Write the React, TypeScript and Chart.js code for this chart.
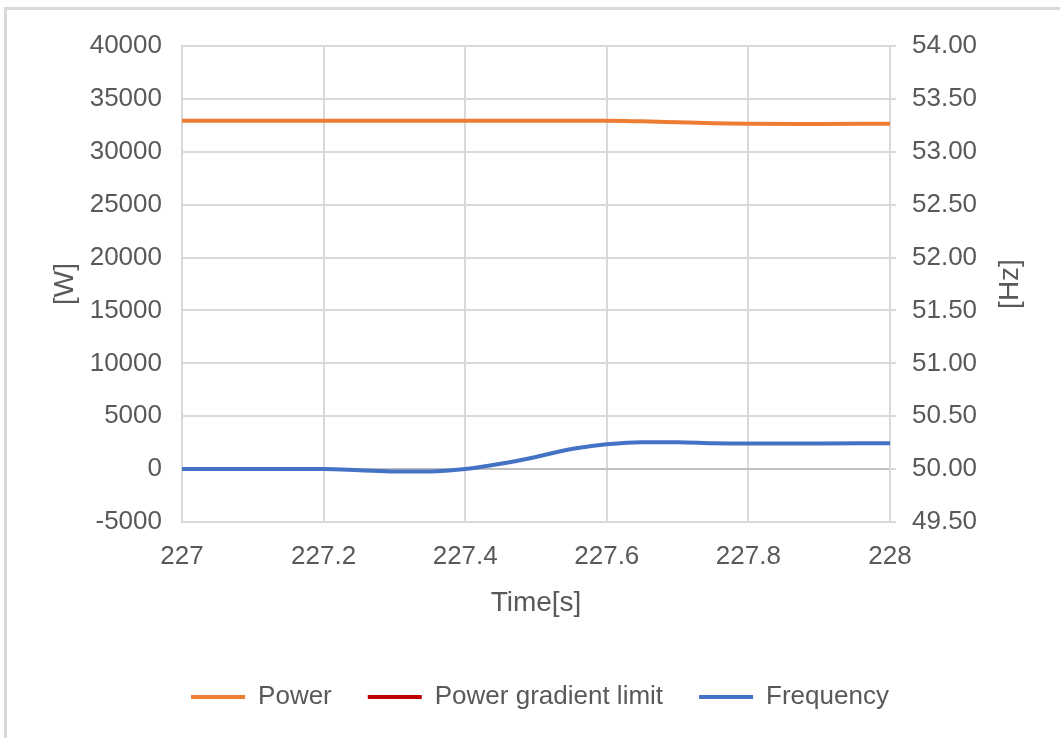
import React, { useEffect, useRef } from "react";
import { Chart, registerables } from "chart.js";

Chart.register(...registerables);

const times = [227, 227.1, 227.2, 227.25, 227.3, 227.35, 227.4, 227.45, 227.5, 227.55, 227.6, 227.65, 227.7, 227.75, 227.8, 227.9, 228];
const powerW = [32940, 32940, 32940, 32940, 32940, 32940, 32940, 32940, 32940, 32940, 32940, 32880, 32790, 32700, 32650, 32630, 32660];
const gradientLimitW: (number | null)[] = [];
const frequencyHz = [50.0, 50.0, 50.0, 49.99, 49.978, 49.977, 50.0, 50.05, 50.115, 50.19, 50.235, 50.255, 50.255, 50.245, 50.242, 50.243, 50.245];

const seriesNames = ["Power", "Power gradient limit", "Frequency"];
const leftTitle = "[W]";
const rightTitle = "[Hz]";
const xTitle = "Time[s]";

const TEXT = "#595959";
const GRID = "#d9d9d9";
const TICK_FONT = { family: "'Liberation Sans', sans-serif", size: 26 };
const TITLE_FONT = { family: "'Liberation Sans', sans-serif", size: 28 };
const LEGEND_FONT = { family: "'Liberation Sans', sans-serif", size: 26 };

const rightTitlePlugin = {
  id: "rightTitle",
  afterDraw(chart: any) {
    const { ctx, chartArea } = chart;
    ctx.save();
    ctx.fillStyle = TEXT;
    ctx.font = `${TITLE_FONT.size}px ${TITLE_FONT.family}`;
    ctx.textAlign = "center";
    ctx.textBaseline = "middle";
    ctx.translate(1010, (chartArea.top + chartArea.bottom) / 2);
    ctx.rotate(-Math.PI / 2);
    ctx.fillText(rightTitle, 0, 0);
    ctx.restore();
  },
};

export default function App() {
  const ref = useRef<HTMLCanvasElement | null>(null);
  useEffect(() => {
    const canvas = ref.current;
    if (!canvas) return;
    const toXY = (ys: (number | null)[]) => ys.map((y, i) => ({ x: times[i], y }));
    const chart = new Chart(canvas, {
      type: "line",
      data: {
        datasets: [
          {
            label: seriesNames[0],
            data: toXY(powerW),
            borderColor: "#ED7D31",
            backgroundColor: "#ED7D31",
            borderWidth: 4,
            pointRadius: 0,
            cubicInterpolationMode: "monotone",
            borderCapStyle: "round",
            yAxisID: "y",
          },
          {
            label: seriesNames[1],
            data: toXY(gradientLimitW),
            borderColor: "#C00000",
            backgroundColor: "#C00000",
            borderWidth: 4,
            pointRadius: 0,
            borderCapStyle: "round",
            yAxisID: "y",
          },
          {
            label: seriesNames[2],
            data: toXY(frequencyHz),
            borderColor: "#4472C4",
            backgroundColor: "#4472C4",
            borderWidth: 4,
            pointRadius: 0,
            cubicInterpolationMode: "monotone",
            borderCapStyle: "round",
            yAxisID: "y1",
          },
        ],
      },
      plugins: [rightTitlePlugin],
      options: {
        animation: false,
        responsive: false,
        devicePixelRatio: 1,
        layout: { padding: { top: 46, bottom: 18, left: 20, right: 0 } },
        plugins: {
          tooltip: { enabled: false },
          legend: {
            position: "bottom",
            labels: {
              usePointStyle: true,
              pointStyle: "line",
              pointStyleWidth: 54,
              padding: 36,
              color: TEXT,
              font: LEGEND_FONT,
            },
          },
        },
        scales: {
          x: {
            type: "linear",
            min: 227,
            max: 228,
            ticks: {
              stepSize: 0.2,
              color: TEXT,
              font: TICK_FONT,
              padding: 19,
              maxRotation: 0,
              callback: (v: any) => parseFloat(Number(v).toFixed(1)).toString(),
            },
            grid: { color: GRID, lineWidth: 2, drawTicks: false },
            border: { display: true, color: GRID, width: 2 },
            title: { display: true, text: xTitle, color: TEXT, font: TITLE_FONT, padding: { top: 0, bottom: 28 } },
            afterFit: (s: any) => { s.height = 126; },
          },
          y: {
            type: "linear",
            position: "left",
            min: -5000,
            max: 40000,
            ticks: {
              stepSize: 5000,
              color: TEXT,
              font: TICK_FONT,
              padding: 20,
              callback: (v: any) => String(Math.round(Number(v))),
            },
            grid: {
              color: (c: any) => (c.tick && c.tick.value === 0 ? "#bfbfbf" : GRID),
              lineWidth: 2,
              drawTicks: false,
            },
            border: { display: true, color: GRID, width: 2 },
            title: { display: true, text: leftTitle, color: TEXT, font: TITLE_FONT, padding: { top: 28, bottom: 0 } },
            afterFit: (s: any) => { s.width = 162; },
          },
          y1: {
            type: "linear",
            position: "right",
            min: 49.5,
            max: 54,
            ticks: {
              stepSize: 0.5,
              color: TEXT,
              font: TICK_FONT,
              padding: 16,
              callback: (v: any) => Number(v).toFixed(2),
            },
            grid: { drawOnChartArea: false, drawTicks: true, tickLength: 6, color: GRID, lineWidth: 2 },
            border: { display: true, color: GRID, width: 2 },
            title: { display: false },
            afterFit: (s: any) => { s.width = 170; },
          },
        },
      },
    } as any);
    return () => chart.destroy();
  }, []);

  return (
    <div style={{ position: "fixed", left: 0, top: 0, width: 1060, height: 738, overflow: "hidden", background: "#fff" }}>
      <div
        style={{
          position: "absolute",
          left: 4,
          top: 7,
          width: 1100,
          height: 800,
          borderTop: "3px solid #d9d9d9",
          borderLeft: "3px solid #d9d9d9",
        }}
      />
      <canvas ref={ref} width={1060} height={738} style={{ position: "absolute", left: 0, top: 0, width: 1060, height: 738 }} />
    </div>
  );
}
